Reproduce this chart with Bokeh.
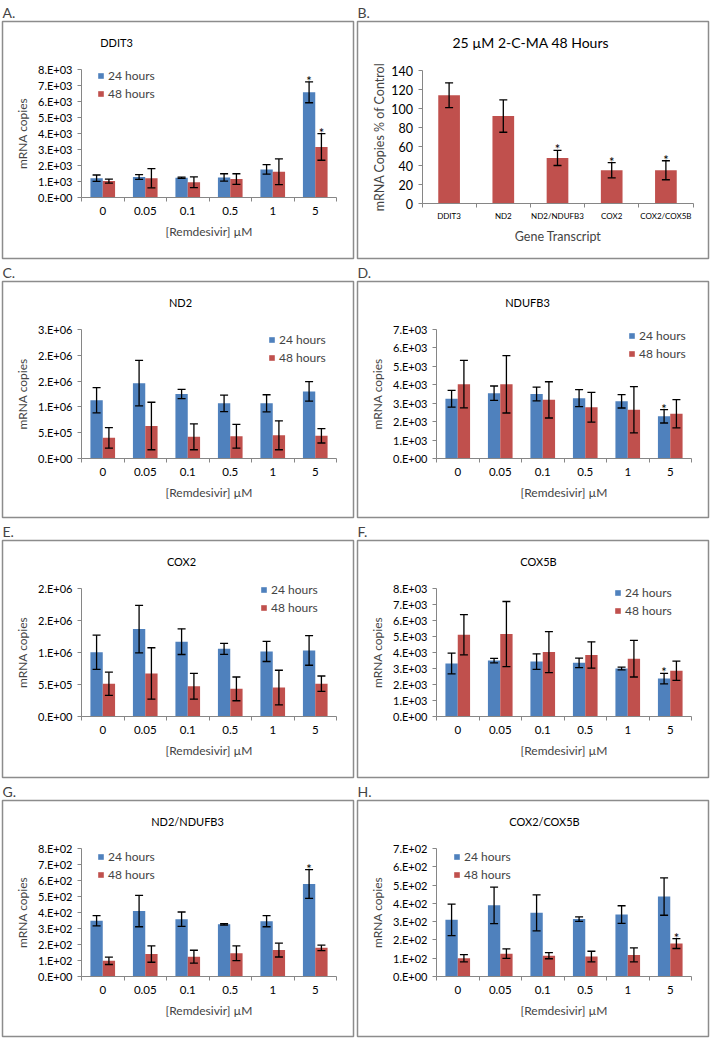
from bokeh.plotting import figure
from bokeh.models import (ColumnDataSource, LinearAxis, FixedTicker, Range1d, Whisker,
                          TeeHead, Legend, LegendItem, Label)
from bokeh.layouts import row, column
from bokeh.embed import file_html
from bokeh.resources import INLINE
from bokeh.core.properties import value

FONT = "Lato"
BLUE = "#4F81BD"
RED = "#C0504D"
AXIS = "#868686"
BOX = "#8C8C8C"
FW = 351

# ---------------- data ----------------
concentrations = ["0", "0.05", "0.1", "0.5", "1", "5"]
series_names = ["24 hours", "48 hours"]

# A. DDIT3
ddit3_24 = [1200, 1280, 1230, 1250, 1750, 6550]
ddit3_24_err = [200, 150, 40, 230, 300, 650]
ddit3_48 = [1020, 1200, 950, 1150, 1600, 3150]
ddit3_48_err = [130, 600, 330, 330, 800, 830]
ddit3_24_sig = [0, 0, 0, 0, 0, 1]
ddit3_48_sig = [0, 0, 0, 0, 0, 1]
ddit3_ticks = [0, 1000, 2000, 3000, 4000, 5000, 6000, 7000, 8000]
ddit3_tick_labels = ["0.E+00", "1.E+03", "2.E+03", "3.E+03", "4.E+03", "5.E+03", "6.E+03", "7.E+03", "8.E+03"]

# B. 25 uM 2-C-MA 48 hours
genes = ["DDIT3", "ND2", "ND2/NDUFB3", "COX2", "COX2/COX5B"]
cma_pct = [114, 92, 48, 35, 35]
cma_err = [13, 17, 8, 8, 10]
cma_sig = [0, 0, 1, 1, 1]
cma_ticks = [0, 20, 40, 60, 80, 100, 120, 140]
cma_tick_labels = ["0", "20", "40", "60", "80", "100", "120", "140"]

# C. ND2
nd2_24 = [1130000, 1460000, 1250000, 1070000, 1070000, 1300000]
nd2_24_err = [245000, 440000, 90000, 160000, 165000, 190000]
nd2_48 = [400000, 630000, 420000, 430000, 450000, 440000]
nd2_48_err = [200000, 460000, 250000, 230000, 280000, 140000]
nd2_24_sig = [0, 0, 0, 0, 0, 0]
nd2_48_sig = [0, 0, 0, 0, 0, 0]
nd2_ticks = [0, 500000, 1000000, 1500000, 2000000, 2500000]
nd2_tick_labels = ["0.E+00", "5.E+05", "1.E+06", "2.E+06", "2.E+06", "3.E+06"]

# D. NDUFB3
ndufb3_24 = [3230, 3530, 3490, 3260, 3090, 2280]
ndufb3_24_err = [450, 390, 370, 460, 360, 360]
ndufb3_48 = [4020, 4010, 3170, 2770, 2630, 2420]
ndufb3_48_err = [1280, 1550, 980, 800, 1250, 760]
ndufb3_24_sig = [0, 0, 0, 0, 0, 1]
ndufb3_48_sig = [0, 0, 0, 0, 0, 0]
ndufb3_ticks = [0, 1000, 2000, 3000, 4000, 5000, 6000, 7000]
ndufb3_tick_labels = ["0.E+00", "1.E+03", "2.E+03", "3.E+03", "4.E+03", "5.E+03", "6.E+03", "7.E+03"]

# E. COX2
cox2_24 = [1000000, 1360000, 1165000, 1053000, 1013000, 1028000]
cox2_24_err = [265000, 370000, 200000, 85000, 157000, 230000]
cox2_48 = [510000, 670000, 470000, 430000, 450000, 510000]
cox2_48_err = [180000, 400000, 200000, 185000, 270000, 120000]
cox2_24_sig = [0, 0, 0, 0, 0, 0]
cox2_48_sig = [0, 0, 0, 0, 0, 0]
cox2_ticks = [0, 500000, 1000000, 1500000, 2000000]
cox2_tick_labels = ["0.E+00", "5.E+05", "1.E+06", "2.E+06", "2.E+06"]

# F. COX5B
cox5b_24 = [3300, 3480, 3420, 3340, 2990, 2360]
cox5b_24_err = [650, 140, 480, 300, 90, 330]
cox5b_48 = [5090, 5130, 4010, 3830, 3600, 2850]
cox5b_48_err = [1250, 2030, 1280, 820, 1140, 600]
cox5b_24_sig = [0, 0, 0, 0, 0, 1]
cox5b_48_sig = [0, 0, 0, 0, 0, 0]
cox5b_ticks = [0, 1000, 2000, 3000, 4000, 5000, 6000, 7000, 8000]
cox5b_tick_labels = ["0.E+00", "1.E+03", "2.E+03", "3.E+03", "4.E+03", "5.E+03", "6.E+03", "7.E+03", "8.E+03"]

# G. ND2/NDUFB3
nd2r_24 = [348, 409, 358, 326, 346, 578]
nd2r_24_err = [32, 98, 45, 4, 35, 90]
nd2r_48 = [98, 140, 124, 145, 165, 179]
nd2r_48_err = [23, 51, 40, 46, 43, 17]
nd2r_24_sig = [0, 0, 0, 0, 0, 1]
nd2r_48_sig = [0, 0, 0, 0, 0, 0]
nd2r_ticks = [0, 100, 200, 300, 400, 500, 600, 700, 800]
nd2r_tick_labels = ["0.E+00", "1.E+02", "2.E+02", "3.E+02", "4.E+02", "5.E+02", "6.E+02", "7.E+02", "8.E+02"]

# H. COX2/COX5B
cox2r_24 = [310, 389, 348, 314, 339, 437]
cox2r_24_err = [86, 100, 98, 12, 48, 102]
cox2r_48 = [100, 125, 114, 109, 118, 180]
cox2r_48_err = [20, 26, 17, 29, 38, 27]
cox2r_24_sig = [0, 0, 0, 0, 0, 0]
cox2r_48_sig = [0, 0, 0, 0, 0, 1]
cox2r_ticks = [0, 100, 200, 300, 400, 500, 600, 700]
cox2r_tick_labels = ["0.E+00", "1.E+02", "2.E+02", "3.E+02", "4.E+02", "5.E+02", "6.E+02", "7.E+02"]


def panel(letter, chart_title, title_x, cats, series, ticks, tick_labels, ylabel, xlabel,
          fh, xl, xr, yb, yt, bar_w, legend_pos=None, title_size="11px",
          ytick_size="11px", xtick_size="11.5px", xlabel_size="12px", ylabel_size="12px",
          ylabel_standoff=5, xlabel_standoff=6, xtick_standoff=5):
    n = len(cats)
    ymax = ticks[-1]
    ux = n / (xr - xl)
    x0 = -0.5 - xl * ux
    uy = ymax / (yt - yb)
    y0 = -yb * uy
    p = figure(frame_width=FW, frame_height=fh,
               x_range=Range1d(x0, x0 + FW * ux), y_range=Range1d(y0, y0 + fh * uy),
               x_axis_type=None, y_axis_type=None, toolbar_location=None,
               output_backend="svg", title=letter,
               min_border_left=2, min_border_right=2, min_border_top=20, min_border_bottom=2,
               outline_line_color=BOX, outline_line_width=1.5,
               background_fill_color="white", border_fill_color="white")
    p.title.text_font = FONT
    p.title.text_font_size = "14px"
    p.title.text_font_style = "normal"
    p.title.align = "left"
    p.title.standoff = 2
    p.title.offset = 0

    # y axis
    yax = LinearAxis(ticker=FixedTicker(ticks=ticks, minor_ticks=[]),
                     major_label_overrides={t: l for t, l in zip(ticks, tick_labels)},
                     fixed_location=-0.5, bounds=(0, ymax), axis_label=ylabel)
    yax.axis_line_color = AXIS
    yax.major_tick_line_color = AXIS
    yax.major_tick_out = 4
    yax.major_tick_in = 0
    yax.major_label_text_font = FONT
    yax.major_label_text_font_size = ytick_size
    yax.major_label_text_color = "black"
    yax.axis_label_text_font = FONT
    yax.axis_label_text_font_size = ylabel_size
    yax.axis_label_text_font_style = "normal"
    yax.axis_label_standoff = ylabel_standoff
    p.add_layout(yax, "left")

    # x axis (category boundaries as small ticks)
    xax = LinearAxis(ticker=FixedTicker(ticks=list(range(n)),
                                        minor_ticks=[i - 0.5 for i in range(n + 1)]),
                     major_label_overrides={i: c for i, c in enumerate(cats)},
                     fixed_location=0, bounds=(-0.5, n - 0.5), axis_label=xlabel)
    xax.axis_line_color = AXIS
    xax.major_tick_line_color = None
    xax.major_tick_out = 4
    xax.major_tick_in = 0
    xax.minor_tick_line_color = AXIS
    xax.minor_tick_out = 4
    xax.minor_tick_in = 0
    xax.major_label_standoff = xtick_standoff
    xax.major_label_text_font = FONT
    xax.major_label_text_font_size = xtick_size
    xax.major_label_text_color = "black"
    xax.axis_label_text_font = FONT
    xax.axis_label_text_font_size = xlabel_size
    xax.axis_label_text_font_style = "normal"
    xax.axis_label_standoff = xlabel_standoff
    p.add_layout(xax, "below")

    items = []
    for name, color, offset, vals, errs, sig in series:
        xs = [i + offset for i in range(n)]
        src = ColumnDataSource(dict(x=xs, top=vals,
                                    upper=[v + e for v, e in zip(vals, errs)],
                                    lower=[v - e for v, e in zip(vals, errs)]))
        r = p.vbar(x="x", top="top", bottom=0, width=bar_w, source=src,
                   fill_color=color, line_color=None)
        w = Whisker(source=src, base="x", upper="upper", lower="lower", level="overlay",
                    line_color="black", line_width=1.3,
                    upper_head=TeeHead(size=8, line_color="black", line_width=1.3),
                    lower_head=TeeHead(size=8, line_color="black", line_width=1.3))
        p.add_layout(w)
        sx = [x for x, s in zip(xs, sig) if s]
        sy = [v + e for v, e, s in zip(vals, errs, sig) if s]
        if sx:
            p.text(x=sx, y=sy, text=["*"] * len(sx), text_font=value(FONT),
                   text_font_size="13px", text_align="center",
                   text_baseline="alphabetic", y_offset=-1, text_color="black")
        if name:
            items.append(LegendItem(label=name, renderers=[r]))

    if legend_pos is not None and items:
        lx, row1 = legend_pos
        lh, sp = 14, 3
        bottom = fh - (row1 - lh / 2) - (2 * lh + sp)
        leg = Legend(items=items, location=(lx, bottom), padding=0, margin=0,
                     spacing=sp, label_height=lh, glyph_width=7, glyph_height=7,
                     label_standoff=4, label_text_font=FONT, label_text_font_size="12px",
                     background_fill_alpha=0, border_line_color=None)
        p.add_layout(leg)

    p.add_layout(Label(x=title_x, y=fh - 21, x_units="screen", y_units="screen",
                       text=chart_title, text_font=FONT, text_font_size=title_size,
                       text_align="center", text_baseline="middle", text_color="black"))
    return p


XL, XR = 79, 334
RX = "[Remdesivir] \u00b5M"
YL = "mRNA copies"
BW = 0.29

pA = panel("A.", "DDIT3", 114, concentrations,
           [(series_names[0], BLUE, -BW / 2, ddit3_24, ddit3_24_err, ddit3_24_sig),
            (series_names[1], RED, BW / 2, ddit3_48, ddit3_48_err, ddit3_48_sig)],
           ddit3_ticks, ddit3_tick_labels, YL, RX, 237, XL, XR, 61, 189.5, BW,
           legend_pos=(95, 56))

pB = panel("B.", "25 \u00b5M 2-C-MA  48 Hours", 175, genes,
           [("", RED, 0, cma_pct, cma_err, cma_sig)],
           cma_ticks, cma_tick_labels, "mRNA Copies % of Control", "Gene Transcript",
           237, 64.5, 335.5, 55, 188, 0.4, title_size="14px",
           ytick_size="12.5px", xtick_size="8px", xlabel_size="12.5px", ylabel_size="12.5px",
           ylabel_standoff=2, xlabel_standoff=5, xtick_standoff=3)

pC = panel("C.", "ND2", 178, concentrations,
           [(series_names[0], BLUE, -BW / 2, nd2_24, nd2_24_err, nd2_24_sig),
            (series_names[1], RED, BW / 2, nd2_48, nd2_48_err, nd2_48_sig)],
           nd2_ticks, nd2_tick_labels, YL, RX, 236, XL, XR, 59, 188, BW,
           legend_pos=(266, 60))

pD = panel("D.", "NDUFB3", 170, concentrations,
           [(series_names[0], BLUE, -BW / 2, ndufb3_24, ndufb3_24_err, ndufb3_24_sig),
            (series_names[1], RED, BW / 2, ndufb3_48, ndufb3_48_err, ndufb3_48_sig)],
           ndufb3_ticks, ndufb3_tick_labels, YL, RX, 236, XL, XR, 59, 188.5, BW,
           legend_pos=(271, 56))

pE = panel("E.", "COX2", 179, concentrations,
           [(series_names[0], BLUE, -BW / 2, cox2_24, cox2_24_err, cox2_24_sig),
            (series_names[1], RED, BW / 2, cox2_48, cox2_48_err, cox2_48_sig)],
           cox2_ticks, cox2_tick_labels, YL, RX, 237, XL, XR, 61, 189.5, BW,
           legend_pos=(258, 51))

pF = panel("F.", "COX5B", 181, concentrations,
           [(series_names[0], BLUE, -BW / 2, cox5b_24, cox5b_24_err, cox5b_24_sig),
            (series_names[1], RED, BW / 2, cox5b_48, cox5b_48_err, cox5b_48_sig)],
           cox5b_ticks, cox5b_tick_labels, YL, RX, 237, XL, XR, 61, 189.5, BW,
           legend_pos=(257, 54))

pG = panel("G.", "ND2/NDUFB3", 185, concentrations,
           [(series_names[0], BLUE, -BW / 2, nd2r_24, nd2r_24_err, nd2r_24_sig),
            (series_names[1], RED, BW / 2, nd2r_48, nd2r_48_err, nd2r_48_sig)],
           nd2r_ticks, nd2r_tick_labels, YL, RX, 236, XL, XR, 60, 188, BW,
           legend_pos=(95, 58))

pH = panel("H.", "COX2/COX5B", 187, concentrations,
           [(series_names[0], BLUE, -BW / 2, cox2r_24, cox2r_24_err, cox2r_24_sig),
            (series_names[1], RED, BW / 2, cox2r_48, cox2r_48_err, cox2r_48_sig)],
           cox2r_ticks, cox2r_tick_labels, YL, RX, 236, XL, XR, 60, 188, BW,
           legend_pos=(96, 58))

layout = column(row(pA, pB), row(pC, pD), row(pE, pF), row(pG, pH))

open("out.html", "w").write(file_html(layout, INLINE))
